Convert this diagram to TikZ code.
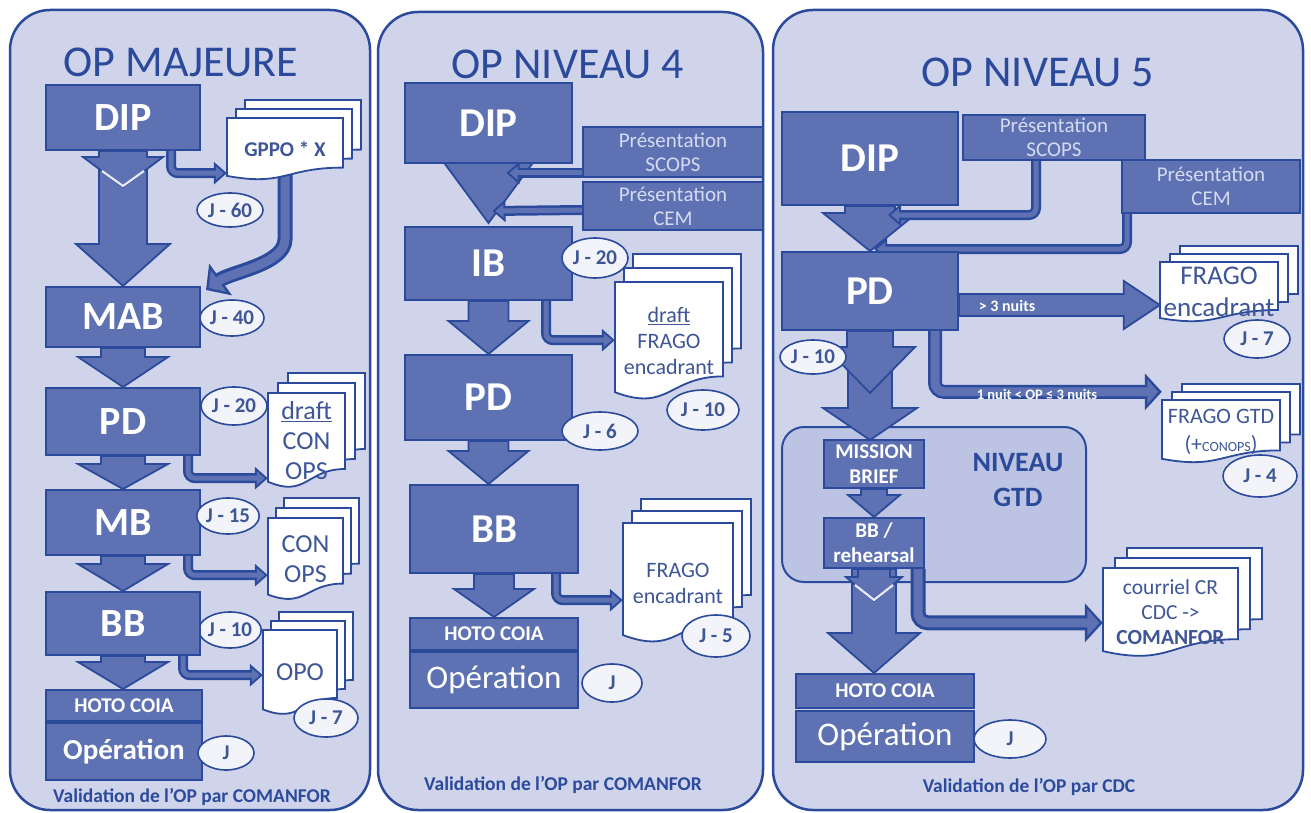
\documentclass[tikz,border=0pt]{standalone}
\usepackage{fontspec}
\setmainfont{Carlito}
\usetikzlibrary{calc,shapes.geometric,arrows.meta}
\definecolor{bgp}{HTML}{D0D4EB}
\definecolor{dk}{HTML}{2B4A9B}
\definecolor{bx}{HTML}{5E72B3}
\definecolor{gtdc}{HTML}{BCC3E3}
\definecolor{ellc}{HTML}{F3F4FA}
\definecolor{txtc}{HTML}{3E5697}
\definecolor{prestxt}{HTML}{D5DAF0}
\definecolor{vwhite}{HTML}{E6E9F6}
\pgfdeclarelayer{bg}\pgfdeclarelayer{lo}\pgfdeclarelayer{mid}\pgfdeclarelayer{fg}
\pgfsetlayers{bg,lo,mid,main,fg}
\newcommand\fsz[2]{\fontsize{#1}{#2}\selectfont}
\newcommand\boxn[7]{\node[box,#6,minimum width={(#4-#2)*1pt},minimum height={(#5-#3)*1pt}] (#1) at ({(#2+#4)/2},{(#3+#5)/2}) {#7};}
\newcommand\jn[6]{\node[jel,minimum width={2*#4*1pt},minimum height={2*#5*1pt}] (#1) at (#2,#3) {#6};}
\newcommand\docpage[4]{\filldraw[docst] ({#1},{#2}) -- ({#1+#3},{#2}) -- ({#1+#3},{#2+0.8*#4}) .. controls ({#1+0.5*#3},{#2+0.8*#4}) and ({#1+0.5*#3},{#2+1.107*#4}) .. ({#1},{#2+0.934*#4}) -- cycle;}
\newcommand\docstack[9]{\docpage{#2+2*#6}{#3-2*#7}{#4}{#5}\docpage{#2+#6}{#3-#7}{#4}{#5}\docpage{#2}{#3}{#4}{#5}\node[doctext,#8,minimum width={#4*1pt},minimum height={#5*1pt}] (#1) at ({#2+0.5*#4},{#3+0.5*#5}) {#9};}
\newcommand\blockdown[5]{\filldraw[arrowst] let \p1=(#1), \p2=(#2) in (\x1-#3pt,\y1) -- (\x1+#3pt,\y1) -- (\x1+#3pt,\y2+#5pt) -- (\x1+#4pt,\y2+#5pt) -- (\x1,\y2) -- (\x1-#4pt,\y2+#5pt) -- (\x1-#3pt,\y2+#5pt) -- cycle;}
\newcommand\blockright[5]{\filldraw[arrowst] let \p1=(#1), \p2=(#2) in (\x1,\y1+#3pt) -- (\x2-#5pt,\y1+#3pt) -- (\x2-#5pt,\y1+#4pt) -- (\x2,\y1) -- (\x2-#5pt,\y1-#4pt) -- (\x2-#5pt,\y1-#3pt) -- (\x1,\y1-#3pt) -- cycle;}
\newcommand\pipe[3]{\draw[#1] #3; \draw[#2] #3;}
\begin{document}
\begin{tikzpicture}[x=1pt,y=-1pt,
  box/.style={draw=dk,line width=2pt,fill=bx,text=white,align=center,inner sep=0pt,font=\bfseries\fsz{40}{44}},
  big2/.style={font=\bfseries\fsz{41}{44}},
  hoto/.style={font=\bfseries\fsz{21}{24}},
  opr/.style={font=\fsz{33}{36}},
  oprb/.style={font=\bfseries\fsz{29}{32}},
  smallb/.style={font=\bfseries\fsz{21}{25}},
  pres/.style={font=\fsz{21}{24},text=prestxt},
  title/.style={text=dk,font=\fsz{44}{48}},
  captxt/.style={text=dk,font=\bfseries\fsz{19.5}{22}},
  jel/.style={ellipse,draw=dk,line width=1.6pt,fill=ellc,text=txtc,font=\bfseries\fsz{21}{22},inner sep=0pt},
  docst/.style={draw=dk,line width=1.8pt,fill=white},
  doctext/.style={text=txtc,align=center,inner sep=0pt,font=\fsz{26}{30}},
  arrowst/.style={draw=dk,line width=1.8pt,fill=bx},
  vline/.style={draw=vwhite,line width=2.2pt},
  pipeo/.style={draw=dk,line width=10pt,rounded corners=7pt,-{Triangle[length=13pt,width=22pt]}},
  pipei/.style={draw=bx,line width=5pt,rounded corners=7pt,shorten >=3pt,-{Triangle[length=8pt,width=13pt]}},
  pipeM/.style={draw=dk,line width=14pt,rounded corners=9pt,-{Triangle[length=17pt,width=36pt]}},
  pipeMi/.style={draw=bx,line width=9pt,rounded corners=9pt,shorten >=3.5pt,-{Triangle[length=11pt,width=24pt]}},
  pipeO/.style={draw=dk,line width=15pt,rounded corners=10pt,-{Triangle[length=18pt,width=38pt]}},
  pipeI/.style={draw=bx,line width=9pt,rounded corners=10pt,shorten >=3.5pt,-{Triangle[length=12pt,width=26pt]}},
  lab/.style={text=white,font=\bfseries\fsz{16}{17},inner sep=0pt},
  gtdbox/.style={draw=dk,line width=2pt,fill=gtdc,rounded corners=22pt},
  gtdtext/.style={text=dk,align=center,font=\bfseries\fsz{28}{35}},
  panel/.style={draw=dk,line width=2.5pt,fill=bgp,rounded corners=40pt}]
\begin{pgfonlayer}{bg}
\fill[white] (0,0) rectangle (1311,813);
\draw[panel] (10,10) rectangle (370,810);
\draw[panel] (378,12) rectangle (763,810);
\draw[panel] (773,10) rectangle (1303,810);
\end{pgfonlayer}
\useasboundingbox (0,0) rectangle (1311,813);

% ================= Panel 1 : OP MAJEURE
\node[title] (p1t) at (181,62) {OP MAJEURE};
\boxn{p1dip}{46}{85}{200}{150}{}{DIP}
\boxn{p1mab}{46}{287}{200}{347}{}{MAB}
\boxn{p1pd}{46}{388}{200}{455}{}{PD}
\boxn{p1mb}{46}{490}{200}{555}{}{MB}
\boxn{p1bb}{46}{592}{200}{655}{}{BB}
\boxn{p1hoto}{46}{690}{202}{721}{hoto}{HOTO COIA}
\boxn{p1op}{46}{723}{202}{780}{oprb}{Opération}
\docstack{p1gppo}{227}{118}{116}{62}{9}{9}{font=\bfseries\fsz{21}{24}}{GPPO * X}
\docstack{p1dco}{268}{393}{77}{95}{10}{10}{}{\underline{draft}\\CON\\OPS}
\docstack{p1co}{268}{518}{75}{82}{8}{10}{}{CON\\OPS}
\docstack{p1opo}{263}{630}{74}{85}{8}{9}{}{OPO}
\node[captxt] (p1c) at (192,797) {Validation de l’OP par COMANFOR};
\begin{pgfonlayer}{mid}
\blockdown{p1dip.south}{p1mab.north}{24}{47}{42}
\blockdown{p1dip.south}{$(p1dip.south)+(0,36)$}{24}{40}{30}
\draw[vline] ($(p1dip.south)+(-21,20)$) -- ($(p1dip.south)+(0,35)$) -- ($(p1dip.south)+(21,20)$);
\blockdown{p1mab.south}{p1pd.north}{22}{45}{30}
\blockdown{p1pd.south}{p1mb.north}{22}{45}{25}
\blockdown{p1mb.south}{p1bb.north}{22}{45}{27}
\blockdown{p1bb.south}{p1hoto.north}{22}{45}{27}
\pipe{pipeo}{pipei}{($(p1dip.south east)+(-30,0)$) |- ($(p1gppo.south west)+(0,-7)$)}
\pipe{pipeO}{pipeI}{($(p1gppo.south)+(0,-6)$) -- ++(0,55) .. controls +(0,35) and +(25,-18) .. ($(p1mab.north east)+(5,4)$)}
\pipe{pipeo}{pipei}{($(p1pd.south east)+(-13,0)$) |- ($(p1dco.south west)+(0,-10)$)}
\pipe{pipeo}{pipei}{($(p1mb.south east)+(-13,0)$) |- ($(p1co.south west)+(0,-25)$)}
\pipe{pipeo}{pipei}{($(p1bb.south east)+(-18,0)$) |- ($(p1opo.south west)+(0,-40)$)}
\jn{p1j20}{234}{406}{33}{19}{J - 20}
\jn{p1j10}{230}{630}{31}{18}{J - 10}
\end{pgfonlayer}
\begin{pgfonlayer}{fg}
\jn{p1j60}{230}{210}{33}{17}{J - 60}
\jn{p1j40}{232}{318}{32}{18}{J - 40}
\jn{p1j15}{228}{516}{30}{18}{J - 15}
\jn{p1j7}{326}{718}{32}{19}{J - 7}
\jn{p1j}{226}{753}{28}{17}{J}
\end{pgfonlayer}

% ================= Panel 2 : OP NIVEAU 4
\node[title] (p2t) at (568,64) {OP NIVEAU 4};
\boxn{p2dip}{405}{83}{572}{163}{big2}{DIP}
\boxn{p2scops}{583}{127}{763}{177}{pres}{Présentation\\SCOPS}
\boxn{p2cem}{583}{182}{763}{230}{pres}{Présentation\\CEM}
\boxn{p2ib}{405}{227}{572}{300}{big2}{IB}
\boxn{p2pd}{405}{355}{572}{440}{big2}{PD}
\boxn{p2bb}{410}{485}{578}{573}{big2}{BB}
\boxn{p2hoto}{410}{618}{578}{650}{hoto}{HOTO COIA}
\boxn{p2op}{410}{652}{578}{708}{opr}{Opération}
\docstack{p2dfr}{615}{282}{108}{118}{9}{14}{font=\fsz{22}{26}}{\underline{draft}\\FRAGO\\encadrant}
\docstack{p2fr}{623}{523}{110}{120}{9}{12}{font=\fsz{22}{26}}{FRAGO\\encadrant}
\node[captxt] (p2c) at (563,785) {Validation de l’OP par COMANFOR};
\begin{pgfonlayer}{mid}
\blockdown{p2dip.south}{$(p2ib.north)+(0,-3)$}{0}{45}{61}
\blockdown{p2ib.south}{p2pd.north}{20}{40}{33}
\blockdown{p2pd.south}{p2bb.north}{20}{40}{33}
\blockdown{p2bb.south}{p2hoto.north}{20}{40}{28}
\pipe{pipeo}{pipei}{($(p2scops.south west)+(0,-5)$) -- ($(p2dip.south)+(18,9)$)}
\pipe{pipeo}{pipei}{($(p2cem.west)+(0,4)$) -- ($(p2dip.south)+(4,47)$)}
\pipe{pipeo}{pipei}{($(p2ib.south east)+(-27,0)$) |- ($(p2dfr.south west)+(0,-60)$)}
\pipe{pipeo}{pipei}{($(p2bb.south east)+(-23,0)$) |- ($(p2fr.south west)+(0,-43)$)}
\end{pgfonlayer}
\begin{pgfonlayer}{fg}
\jn{p2j20}{595}{258}{33}{20}{J - 20}
\jn{p2j10}{703}{410}{36}{20}{J - 10}
\jn{p2j6}{600}{431}{38}{19}{J - 6}
\jn{p2j5}{716}{636}{34}{21}{J - 5}
\jn{p2j}{612}{683}{30}{19}{J}
\end{pgfonlayer}

% ================= Panel 3 : OP NIVEAU 5
\node[title] (p3t) at (1038,72) {OP NIVEAU 5};
\begin{pgfonlayer}{lo}
\node[gtdbox,minimum width=304pt,minimum height=155pt] (p3gtd) at (934,504.5) {};
\end{pgfonlayer}
\node[gtdtext] (p3gtdt) at (1018,480) {NIVEAU\\GTD};
\boxn{p3dip}{782}{112}{958}{205}{big2}{DIP}
\boxn{p3scops}{963}{115}{1145}{160}{pres}{Présentation\\SCOPS}
\boxn{p3cem}{1122}{160}{1300}{213}{pres}{Présentation\\CEM}
\boxn{p3pd}{782}{252}{958}{330}{big2}{PD}
\boxn{p3mb}{824}{440}{924}{488}{smallb}{MISSION\\BRIEF}
\boxn{p3bbr}{824}{518}{924}{568}{smallb}{BB /\\rehearsal}
\boxn{p3hoto}{796}{674}{974}{708}{hoto}{HOTO COIA}
\boxn{p3op}{796}{711}{974}{762}{opr}{Opération}
\docstack{p3fre}{1160}{262}{118}{60}{10}{8}{font=\fsz{27}{32}}{FRAGO\\encadrant}
\docstack{p3frg}{1162}{400}{118}{63}{10}{8}{font=\fsz{22}{28}}{FRAGO GTD\\(+{\fsz{14}{14}CONOPS})}
\docstack{p3cr}{1103}{568}{135}{89}{12}{10}{font=\fsz{21.5}{25}}{courriel CR\\CDC ->\\\textbf{COMANFOR}}
\node[captxt] (p3c) at (1029,787) {Validation de l’OP par CDC};
\begin{pgfonlayer}{mid}
\blockdown{p3dip.south}{p3pd.north}{25}{47}{38}
\blockdown{$(p3pd.south)+(0,38)$}{$(p3mb.north)+(0,1)$}{22}{47}{32}
\blockdown{p3pd.south}{$(p3pd.south)+(0,62)$}{23}{45}{46}
\blockdown{p3mb.south}{p3bbr.north}{13}{26}{22}
\blockdown{p3bbr.south}{p3hoto.north}{22}{46}{40}
\blockdown{p3bbr.south}{$(p3bbr.south)+(0,32)$}{16}{28}{24}
\draw[vline] ($(p3bbr.south)+(-19,16)$) -- ($(p3bbr.south)+(0,31)$) -- ($(p3bbr.south)+(19,16)$);
\pipe{pipeo}{pipei}{($(p3scops.south)+(-18,0)$) |- ($(p3dip.south)+(18,9)$)}
\pipe{pipeo}{pipei}{($(p3cem.south west)+(6,0)$) |- ($(p3dip.south)+(4,43)$)}
\blockright{$(p3pd.east)+(0,14)$}{p3fre.west}{11}{24}{36}
\pipe{pipeM}{pipeMi}{($(p3pd.south east)+(-24,0)$) |- ($(p3frg.north west)+(0,-8)$)}
\pipe{pipeO}{pipeI}{($(p3bbr.south east)+(-7,0)$) |- ($(p3cr.north west)+(0,55)$)}
\end{pgfonlayer}
\begin{pgfonlayer}{fg}
\node[lab] (p3l1) at ($(p3pd.east)+(48,15)$) {> 3 nuits};
\node[lab,font=\bfseries\fsz{14.5}{15}] (p3l2) at ($(p3pd.south east)+(78,63)$) {1 nuit < OP ≤ 3 nuits};
\jn{p3j10}{813}{357}{33}{17}{J - 10}
\jn{p3j7}{1257}{339}{33}{19}{J - 7}
\jn{p3j4}{1260}{476}{37}{21}{J - 4}
\jn{p3j}{1010}{739}{36}{19}{J}
\end{pgfonlayer}
\end{tikzpicture}
\end{document}
